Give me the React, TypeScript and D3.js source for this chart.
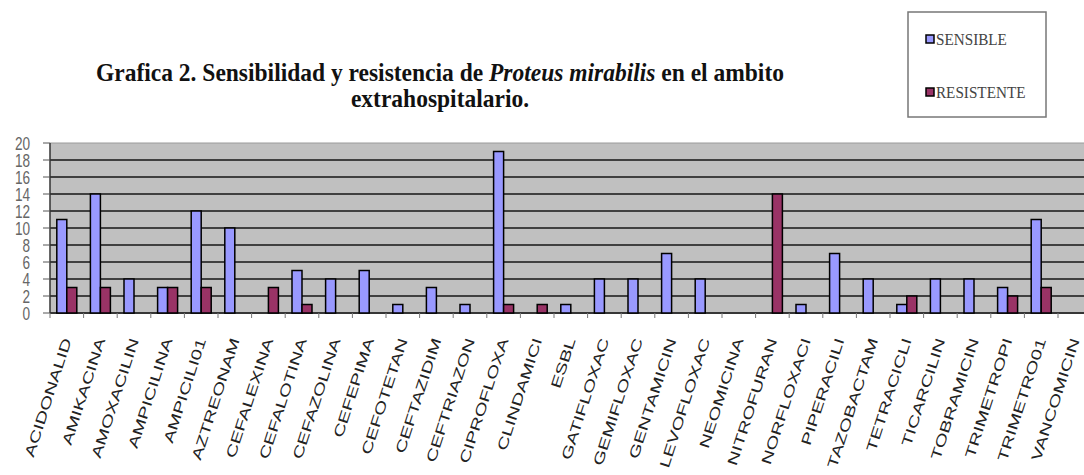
import React from "react";
import * as d3 from "d3";

const categories = [
  "ACIDONALID", "AMIKACINA", "AMOXACILIN", "AMPICILINA", "AMPICILI01", "AZTREONAM",
  "CEFALEXINA", "CEFALOTINA", "CEFAZOLINA", "CEFEPIMA", "CEFOTETAN", "CEFTAZIDIM",
  "CEFTRIAZON", "CIPROFLOXA", "CLINDAMICI", "ESBL", "GATIFLOXAC", "GEMIFLOXAC",
  "GENTAMICIN", "LEVOFLOXAC", "NEOMICINA", "NITROFURAN", "NORFLOXACI", "PIPERACILI",
  "TAZOBACTAM", "TETRACICLI", "TICARCILIN", "TOBRAMICIN", "TRIMETROPI", "TRIMETRO01",
  "VANCOMICIN",
];
const sensible = [11, 14, 4, 3, 12, 10, 0, 5, 4, 5, 1, 3, 1, 19, 0, 1, 4, 4, 7, 4, 0, 0, 1, 7, 4, 1, 4, 4, 3, 11, 0];
const resistente = [3, 3, 0, 3, 3, 0, 3, 1, 0, 0, 0, 0, 0, 1, 1, 0, 0, 0, 0, 0, 0, 14, 0, 0, 0, 2, 0, 0, 2, 3, 0];
const seriesNames = ["SENSIBLE", "RESISTENTE"];
const seriesColors = ["#9999ff", "#993366"];
const yTicks = [0, 2, 4, 6, 8, 10, 12, 14, 16, 18, 20];

export default function App() {
  const W = 1084, H = 475;
  const left = 50, top = 143, bottom = 313;
  const right = left + categories.length * 33.6;
  const x = d3.scaleBand<string>().domain(categories).range([left, right]).paddingInner(0).paddingOuter(0);
  const y = d3.scaleLinear().domain([0, 20]).range([bottom, top]);
  const bw = x.bandwidth();
  const barW = 10;
  const groupPad = (bw - 2 * barW) / 2;
  const series = [sensible, resistente];

  return (
    <svg width={W} height={H} style={{ position: "absolute", left: 0, top: 0, background: "#fff", overflow: "hidden" }}>
      {/* title */}
      <g fontFamily="'Liberation Serif', 'Times New Roman', serif" fontWeight="bold" fontSize={25} fill="#111"
        textAnchor="middle" transform="translate(440,0) scale(0.94,1) translate(-440,0)">
        <text x={440} y={81}>
          Grafica 2. Sensibilidad y resistencia de <tspan fontStyle="italic">Proteus mirabilis</tspan> en el ambito
        </text>
        <text x={440} y={107}>extrahospitalario.</text>
      </g>

      {/* legend */}
      <rect x={908} y={12} width={138} height={105} fill="#fff" stroke="#777" strokeWidth={1.5} />
      {seriesNames.map((n, i) => (
        <g key={n}>
          <rect x={926} y={i === 0 ? 35 : 88} width={8} height={8} fill={seriesColors[i]} stroke="#000" strokeWidth={1.5} />
          <text x={936} y={i === 0 ? 45 : 98} fontFamily="'Liberation Serif', serif" fontSize={16} fill="#444"
            transform={`translate(936,0) scale(0.95,1) translate(-936,0)`}>{n}</text>
        </g>
      ))}

      {/* plot area */}
      <rect x={left} y={top} width={right - left} height={bottom - top} fill="#c0c0c0" />
      {yTicks.map((t) => (
        <line key={"g" + t} x1={left} x2={right} y1={y(t)} y2={y(t)}
          stroke={t === 20 ? "#9a9a9a" : "#404040"} strokeWidth={t === 20 ? 1 : 1.8} />
      ))}
      <line x1={left} x2={left} y1={top} y2={bottom} stroke="#333" strokeWidth={1.5} />
      <line x1={left} x2={right} y1={bottom} y2={bottom} stroke="#333" strokeWidth={1.5} />
      {yTicks.map((t) => (
        <line key={"yt" + t} x1={43} x2={left} y1={y(t)} y2={y(t)} stroke="#555" strokeWidth={1} />
      ))}
      {yTicks.map((t) => (
        <text key={"yl" + t} x={30} y={y(t)} dy="0.36em" textAnchor="end"
          fontFamily="'Liberation Sans', Arial, sans-serif" fontSize={16} fill="#666"
          transform={`translate(30,${y(t)}) scale(0.85,1.15) translate(-30,${-y(t)})`}>
          {t}
        </text>
      ))}
      {categories.map((c) => (
        <line key={"xt" + c} x1={x(c)!} x2={x(c)!} y1={bottom} y2={bottom + 5} stroke="#777" strokeWidth={1} />
      ))}
      <line x1={right} x2={right} y1={bottom} y2={bottom + 5} stroke="#777" strokeWidth={1} />

      {/* bars */}
      {series.map((vals, s) =>
        categories.map((c, i) =>
          vals[i] > 0 ? (
            <rect key={s + "-" + c}
              x={x(c)! + groupPad + s * barW} y={y(vals[i])}
              width={barW} height={bottom - y(vals[i])}
              fill={seriesColors[s]} stroke="#000" strokeWidth={1.5} />
          ) : null
        )
      )}

      {/* x labels */}
      {categories.map((c) => {
        const cx = x(c)! + bw / 2 + 5;
        const cy = 340;
        return (
          <text key={"xl" + c} transform={`translate(${cx},${cy}) rotate(-72) scale(1.45,1)`}
            textAnchor="end" fontFamily="'Liberation Sans', Arial, sans-serif" fontSize={14} fill="#222">
            {c}
          </text>
        );
      })}
    </svg>
  );
}
